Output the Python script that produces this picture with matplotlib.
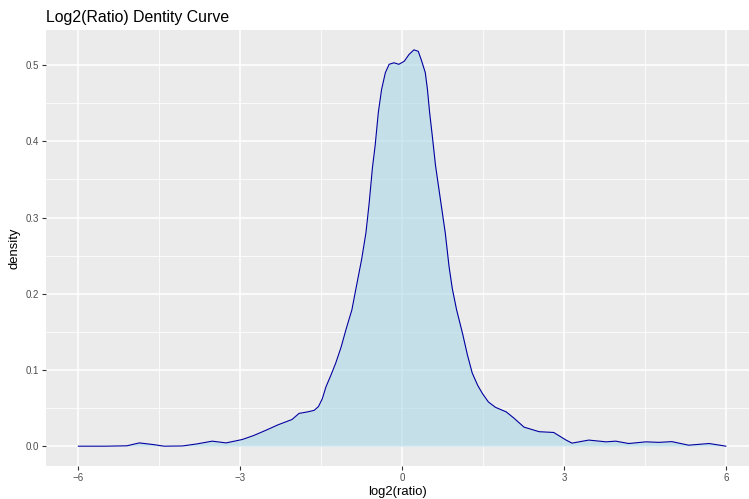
import numpy as np
import matplotlib
matplotlib.use("Agg")
import matplotlib.pyplot as plt

plt.rcParams["font.family"] = ["Liberation Sans", "DejaVu Sans"]

# density curve
log2_ratio = [-6.0, -5.5, -5.1, -4.87, -4.6, -4.41, -4.07, -3.8, -3.52, -3.26,
              -2.96, -2.75, -2.52, -2.3, -2.04, -1.91, -1.75, -1.63, -1.55, -1.48,
              -1.41, -1.32, -1.23, -1.13, -1.04, -0.93, -0.86, -0.75, -0.67, -0.61,
              -0.55, -0.50, -0.44, -0.38, -0.31, -0.24, -0.15, -0.06, 0.04, 0.13,
              0.22, 0.30, 0.36, 0.43, 0.47, 0.51, 0.56, 0.62, 0.72, 0.80,
              0.87, 0.93, 1.01, 1.12, 1.21, 1.30, 1.40, 1.49, 1.60, 1.73,
              1.93, 2.07, 2.26, 2.54, 2.81, 3.04, 3.15, 3.46, 3.78, 3.96,
              4.2, 4.52, 4.76, 5.0, 5.31, 5.69, 5.96, 6.0]
density = [0, 0, 0.0005, 0.0043, 0.002, 0.0, 0.0003, 0.003, 0.0066, 0.0043,
           0.0088, 0.014, 0.021, 0.028, 0.035, 0.043, 0.045, 0.047, 0.052, 0.062,
           0.078, 0.093, 0.109, 0.130, 0.153, 0.179, 0.205, 0.245, 0.280, 0.319,
           0.365, 0.394, 0.438, 0.468, 0.490, 0.501, 0.503, 0.501, 0.505, 0.514,
           0.520, 0.518, 0.506, 0.490, 0.468, 0.438, 0.407, 0.368, 0.319, 0.280,
           0.236, 0.207, 0.179, 0.148, 0.120, 0.096, 0.080, 0.069, 0.058, 0.051,
           0.045, 0.037, 0.025, 0.019, 0.018, 0.008, 0.004, 0.008, 0.0057, 0.0066,
           0.0035, 0.0057, 0.005, 0.006, 0.0013, 0.0035, 0.0005, 0.0]

x_ticks = [-6, -3, 0, 3, 6]
y_ticks = [0.0, 0.1, 0.2, 0.3, 0.4, 0.5]

fig = plt.figure(figsize=(7.49, 4.99), dpi=100, facecolor="white")
ax = fig.add_axes([46 / 749, 1 - 466 / 499, 1 - 46 / 749, (466 - 30) / 499])
ax.set_facecolor("#EBEBEB")

# grid, ggplot style
for s in ax.spines.values():
    s.set_visible(False)
ax.set_xticks(x_ticks)
ax.set_xticks([-4.5, -1.5, 1.5, 4.5], minor=True)
ax.set_yticks(y_ticks)
ax.set_yticks(np.arange(0.05, 0.55, 0.1), minor=True)
ax.set_yticklabels(["0.0", "0.1", "0.2", "0.3", "0.4", "0.5"])
ax.grid(which="major", color="white", linewidth=1.1)
ax.grid(which="minor", color="white", linewidth=0.55)
ax.set_axisbelow(True)
ax.tick_params(which="major", length=3, width=0.8, color="#333333",
               labelcolor="#4D4D4D", labelsize=7, pad=2)
ax.tick_params(which="minor", length=0)

ax.fill_between(log2_ratio, density, color="lightblue", alpha=0.6, linewidth=0)
ax.plot(log2_ratio, density, color="#0000A0", linewidth=0.8)

ax.set_xlim(-6.6, 6.43)
ax.set_ylim(-0.026, 0.546)

ax.set_xlabel("log2(ratio)", fontsize=9.4, color="black", labelpad=2)
ax.set_ylabel("density", fontsize=9.4, color="black", labelpad=4)
ax.set_title("Log2(Ratio) Dentity Curve", loc="left", fontsize=11.4, pad=6)

fig.savefig("out.png", dpi=100)
